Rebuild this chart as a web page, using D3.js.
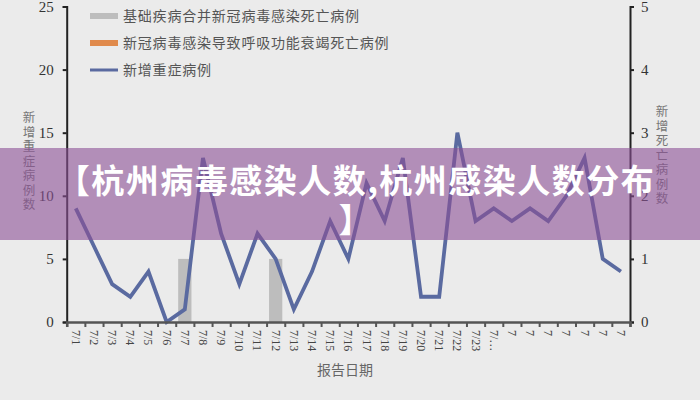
<!DOCTYPE html>
<html><head><meta charset="utf-8">
<script src="https://cdn.jsdelivr.net/npm/d3@7"></script>
<style>
html,body{margin:0;padding:0;background:#ebebeb;}
svg{display:block;}
</style></head>
<body>
<svg id="c" width="700" height="400"></svg>
<script>
const dates = ["7/1","7/2","7/3","7/4","7/5","7/6","7/7","7/8","7/9","7/10","7/11","7/12","7/13","7/14","7/15","7/16","7/17","7/18","7/19","7/20","7/21","7/22","7/23","7/24","7/25","7/26","7/27","7/28","7/29","7/30","7/31"];
const tickLabels = ["7/1","7/2","7/3","7/4","7/5","7/6","7/7","7/8","7/9","7/10","7/11","7/12","7/13","7/14","7/15","7/16","7/17","7/18","7/19","7/20","7/21","7/22","7/23","7/…","7","7","7","7","7","7","7"];
const severeCases = [9,6,3,2,4,0,1,13,7,3,7,5,1,4,8,5,11,8,13,2,2,15,8,9,8,9,8,10,13,5,4];
const deathsComorbid = [0,0,0,0,0,0,1,0,0,0,0,1,0,0,0,0,0,0,0,0,0,0,0,0,0,0,0,0,0,0,0];
const deathsRespiratory = [0,0,0,0,0,0,0,0,0,0,0,0,0,0,0,0,0,0,0,0,0,0,0,0,0,0,0,0,0,0,0];
const leftTicks = [0,5,10,15,20,25];
const rightTicks = [0,1,2,3,4,5];
const legendLabels = ["基础疾病合并新冠病毒感染死亡病例","新冠病毒感染导致呼吸功能衰竭死亡病例","新增重症病例"];
const bannerLines = ["【杭州病毒感染人数,杭州感染人数分布","】"];

const svg = d3.select("#c");
const x0 = 66.7, x1 = 630, yBot = 322, yTop = 6.5;
const x = d3.scaleBand().domain(dates).range([x0, x1]).padding(0);
const xi = d3.scaleLinear().domain([0, dates.length]).range([x0, x1]);
const yL = d3.scaleLinear().domain([0,25]).range([yBot, yTop]);
const yR = d3.scaleLinear().domain([0,5]).range([yBot, yTop]);
const serif = "'Liberation Serif','DejaVu Serif',serif";
const cjk = "'Noto Sans CJK SC','Noto Sans CJK JP',sans-serif";

// bars (gray: comorbid, orange: respiratory)
const bw = x.bandwidth()*0.73;
svg.append("g").selectAll("rect").data(dates.map((d,i)=>({d,v:deathsComorbid[i]}))).join("rect")
  .attr("x", d=>x(d.d)+(x.bandwidth()-bw)/2).attr("width", bw)
  .attr("y", d=>yR(d.v)).attr("height", d=>yBot-yR(d.v)).attr("fill","#bdbdbd");
svg.append("g").selectAll("rect").data(dates.map((d,i)=>({d,v:deathsRespiratory[i]}))).join("rect")
  .attr("x", d=>x(d.d)+(x.bandwidth()-bw)/2).attr("width", bw)
  .attr("y", d=>yR(d.v)).attr("height", d=>yBot-yR(d.v)).attr("fill","#e08a4c");

// line
const line = d3.line().x((d,i)=>x(dates[i])+x.bandwidth()/2).y(d=>yL(d));
svg.append("path").datum(severeCases).attr("d", line).attr("fill","none")
  .attr("stroke","#5a6aa0").attr("stroke-width",3.8).attr("stroke-linejoin","miter");

// left axis
const gL = svg.append("g").attr("transform",`translate(${x0},0)`)
  .call(d3.axisLeft(yL).tickValues(leftTicks).tickSize(4).tickPadding(9).tickFormat(d3.format("d")));
gL.select(".domain").attr("stroke","#222").attr("stroke-width",2);
gL.selectAll(".tick line").attr("stroke","#222").attr("stroke-width",2);
gL.selectAll("text").attr("font-family",serif).attr("font-size",15).attr("fill","#333");

// right axis
const gR = svg.append("g").attr("transform",`translate(${x1},0)`)
  .call(d3.axisRight(yR).tickValues(rightTicks).tickSize(4).tickPadding(7).tickFormat(d3.format("d")));
gR.select(".domain").attr("stroke","#222").attr("stroke-width",2);
gR.selectAll(".tick line").attr("stroke","#222").attr("stroke-width",2);
gR.selectAll("text").attr("font-family",serif).attr("font-size",15).attr("fill","#333");

// bottom axis: ticks at band boundaries
const gB = svg.append("g").attr("transform",`translate(0,${yBot})`)
  .call(d3.axisBottom(xi).tickValues(d3.range(0,dates.length+1)).tickSize(5).tickFormat(""));
gB.select(".domain").attr("stroke","#555").attr("stroke-width",2.5);
gB.selectAll(".tick line").attr("stroke","#555").attr("stroke-width",2);
svg.append("g").selectAll("text").data(dates).join("text")
  .attr("transform",(d,i)=>`translate(${x(d)+x.bandwidth()/2-4},${yBot+8}) rotate(90)`)
  .attr("font-family",serif).attr("font-size",12).attr("fill","#444")
  .text((d,i)=>tickLabels[i]);

// axis titles
svg.append("text").attr("x",345).attr("y",375).attr("text-anchor","middle")
  .attr("font-family",cjk).attr("font-size",14).attr("fill","#666").text("报告日期");
const vt = (txt, cx, y0) => {
  svg.append("text").attr("x",cx).attr("y",y0)
    .style("writing-mode","vertical-rl").attr("letter-spacing",2)
    .attr("font-family",cjk).attr("font-size",12.5).attr("fill","#777").text(txt);
};
vt("新增重症病例数", 29, 111);
vt("新增死亡病例数", 662, 105);

// legend
const lg = svg.append("g");
const lyy = [16, 43, 70];
lg.append("rect").attr("x",90).attr("y",lyy[0]-3).attr("width",28).attr("height",6).attr("fill","#bdbdbd");
lg.append("rect").attr("x",90).attr("y",lyy[1]-3).attr("width",28).attr("height",6).attr("fill","#e08a4c");
lg.append("line").attr("x1",90).attr("x2",118).attr("y1",lyy[2]).attr("y2",lyy[2]).attr("stroke","#5a6aa0").attr("stroke-width",3);
lg.selectAll("text").data(legendLabels).join("text")
  .attr("x",123).attr("y",(d,i)=>lyy[i]+5).attr("font-family",cjk).attr("font-size",14)
  .attr("letter-spacing",0.8).attr("fill","#555").text(d=>d);

// banner overlay
svg.append("rect").attr("x",0).attr("y",148).attr("width",700).attr("height",92)
  .attr("fill","rgba(140,80,150,0.6)");
svg.append("g").selectAll("text").data(bannerLines).join("text")
  .attr("x",356).attr("y",(d,i)=>193+i*39).attr("text-anchor","middle")
  .attr("font-family",cjk).attr("font-weight",700).attr("font-size",33).attr("letter-spacing",1.5)
  .attr("fill","#fff").text(d=>d);
</script>
</body></html>
